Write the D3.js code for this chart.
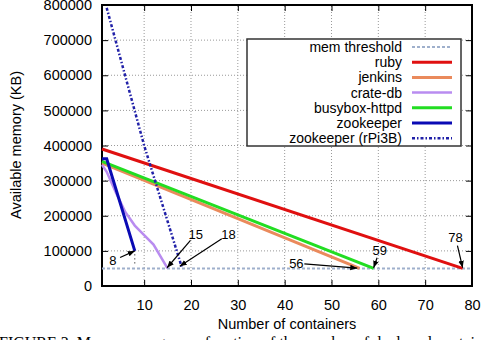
<!DOCTYPE html>
<html>
<head>
<meta charset="utf-8">
<script src="https://cdn.jsdelivr.net/npm/d3@7"></script>
<style>
  body { margin: 0; background: #fff; }
  svg { display: block; font-family: "Liberation Sans", Arial, sans-serif; }
</style>
</head>
<body>
<svg id="chart" width="482" height="340"></svg>
<script>
// values
var xTicks = [10, 20, 30, 40, 50, 60, 70, 80];
var yTicks = [0, 100000, 200000, 300000, 400000, 500000, 600000, 700000, 800000];

var memThreshold = [[1, 50000], [80, 50000]];
var ruby = [[1, 390000], [78, 50000]];
var jenkins = [[1, 350000], [56, 50000]];
var crateDb = [[1, 345000], [2, 325000], [4, 265000], [6, 210000], [8, 172000], [10, 145000], [12, 118000], [15, 50000]];
var busybox = [[1, 355000], [59, 50000]];
var zookeeper = [[1, 362000], [2, 362000], [8, 100000]];
var zookeeperPi = [[2, 792000], [10, 400000], [18, 55000]];

var series = [
  { name: "mem threshold", data: memThreshold, color: "#9fb0cc", width: 2, dash: "3,2" },
  { name: "ruby", data: ruby, color: "#e01010", width: 3, dash: null },
  { name: "jenkins", data: jenkins, color: "#ea8a5c", width: 3, dash: null },
  { name: "crate-db", data: crateDb, color: "#b98cf0", width: 2.5, dash: null },
  { name: "busybox-httpd", data: busybox, color: "#22dd22", width: 3, dash: null },
  { name: "zookeeper", data: zookeeper, color: "#0a0ab4", width: 3, dash: null },
  { name: "zookeeper (rPi3B)", data: zookeeperPi, color: "#2020a8", width: 2.5, dash: "3,2,1.5,2" }
];

// annotations: label, label pos (data), arrow tip (data)
var notes = [
  { text: "8", at: [3.3, 72000], tip: [8, 100000] },
  { text: "15", at: [21, 147000], tip: [14.9, 52000] },
  { text: "18", at: [28, 147000], tip: [17.6, 56000] },
  { text: "56", at: [42.5, 65000], tip: [55.5, 51000] },
  { text: "59", at: [60.3, 102000], tip: [59, 52000] },
  { text: "78", at: [76.5, 137000], tip: [78, 52000] }
];

var svg = d3.select("#chart");
var x = d3.scaleLinear().domain([1, 80]).range([102, 472]);
var y = d3.scaleLinear().domain([0, 800000]).range([286, 5]);

var defs = svg.append("defs");
defs.append("marker").attr("id", "arr")
  .attr("viewBox", "0 0 10 10").attr("refX", 10).attr("refY", 5)
  .attr("markerWidth", 7).attr("markerHeight", 7).attr("orient", "auto")
  .attr("markerUnits", "userSpaceOnUse")
  .append("path").attr("d", "M0,1 L10,5 L0,9 Z").attr("fill", "#000");

// grid
svg.append("g").selectAll("line").data(xTicks.filter(d => d < 80)).enter().append("line")
  .attr("x1", d => x(d)).attr("x2", d => x(d)).attr("y1", y(0)).attr("y2", y(800000))
  .attr("stroke", "#999").attr("stroke-width", 1).attr("stroke-dasharray", "1,2");
svg.append("g").selectAll("line").data(yTicks.filter(d => d > 0 && d < 800000)).enter().append("line")
  .attr("x1", x(1)).attr("x2", x(80)).attr("y1", d => y(d)).attr("y2", d => y(d))
  .attr("stroke", "#999").attr("stroke-width", 1).attr("stroke-dasharray", "1,2");

// axes
var fs = "14.5px";
svg.append("g").attr("transform", "translate(0," + y(0) + ")")
  .call(d3.axisBottom(x).tickValues(xTicks).tickSize(-6).tickPadding(14))
  .call(g => g.select(".domain").remove())
  .call(g => g.selectAll("text").attr("font-size", fs).attr("font-family", "Liberation Sans, Arial").attr("fill", "#000"));
svg.append("g").attr("transform", "translate(0," + y(800000) + ")")
  .call(d3.axisTop(x).tickValues(xTicks).tickSize(-6).tickFormat(""))
  .call(g => g.select(".domain").remove());
svg.append("g").attr("transform", "translate(" + x(1) + ",0)")
  .call(d3.axisLeft(y).tickValues(yTicks).tickSize(-6).tickPadding(10).tickFormat(d3.format("d")))
  .call(g => g.select(".domain").remove())
  .call(g => g.selectAll("text").attr("font-size", fs).attr("font-family", "Liberation Sans, Arial").attr("fill", "#000"));
svg.append("g").attr("transform", "translate(" + x(80) + ",0)")
  .call(d3.axisRight(y).tickValues(yTicks).tickSize(-6).tickFormat(""))
  .call(g => g.select(".domain").remove());

svg.append("rect").attr("x", x(1)).attr("y", y(800000))
  .attr("width", x(80) - x(1)).attr("height", y(0) - y(800000))
  .attr("fill", "none").attr("stroke", "#000").attr("stroke-width", 2);

// lines
var line = d3.line().x(d => x(d[0])).y(d => y(d[1]));
var plot = svg.append("g");
series.forEach(function (s) {
  plot.append("path").datum(s.data).attr("d", line)
    .attr("fill", "none").attr("stroke", s.color).attr("stroke-width", s.width)
    .attr("stroke-dasharray", s.dash);
});

// small dotted drop under zookeeper end
plot.append("line").attr("x1", x(8)).attr("x2", x(8)).attr("y1", y(90000)).attr("y2", y(58000))
  .attr("stroke", "#000").attr("stroke-width", 1).attr("stroke-dasharray", "1,3");

// annotations
var ann = svg.append("g");
notes.forEach(function (n) {
  ann.append("text").attr("x", x(n.at[0])).attr("y", y(n.at[1]))
    .attr("font-size", "13px").attr("text-anchor", "middle").attr("dy", "0.35em").text(n.text);
  var lx = x(n.at[0]), ly = y(n.at[1]);
  var tx = x(n.tip[0]), ty = y(n.tip[1]);
  var dx = tx - lx, dy = ty - ly, len = Math.sqrt(dx * dx + dy * dy);
  var off = 8;
  ann.append("line")
    .attr("x1", lx + dx / len * off).attr("y1", ly + dy / len * off)
    .attr("x2", tx).attr("y2", ty)
    .attr("stroke", "#000").attr("stroke-width", 1.2).attr("marker-end", "url(#arr)");
});

// legend
var lg = svg.append("g");
lg.append("rect").attr("x", 247).attr("y", 39).attr("width", 214).attr("height", 107)
  .attr("fill", "#fff").attr("stroke", "#333").attr("stroke-width", 1.5);
series.forEach(function (s, i) {
  var yy = 47 + i * 15.2;
  lg.append("text").attr("x", 402).attr("y", yy).attr("dy", "0.35em")
    .attr("text-anchor", "end").attr("font-size", "14px").text(s.name);
  lg.append("line").attr("x1", 412).attr("x2", 452).attr("y1", yy).attr("y2", yy)
    .attr("stroke", s.color).attr("stroke-width", s.width).attr("stroke-dasharray", s.dash);
});

// titles
svg.append("text").attr("x", 287).attr("y", 329).attr("text-anchor", "middle")
  .attr("font-size", "14.5px").text("Number of containers");
svg.append("text").attr("transform", "translate(21,145) rotate(-90)").attr("text-anchor", "middle")
  .attr("font-size", "14.5px").text("Available memory (KB)");

// caption (cut off by the window, as in the source page)
svg.append("text").attr("x", -1).attr("y", 348)
  .attr("font-family", "Liberation Serif, Times New Roman, serif").attr("font-size", "16px")
  .text("FIGURE 3.   Memory usage as a function of the number of deployed containers");
</script>
</body>
</html>
